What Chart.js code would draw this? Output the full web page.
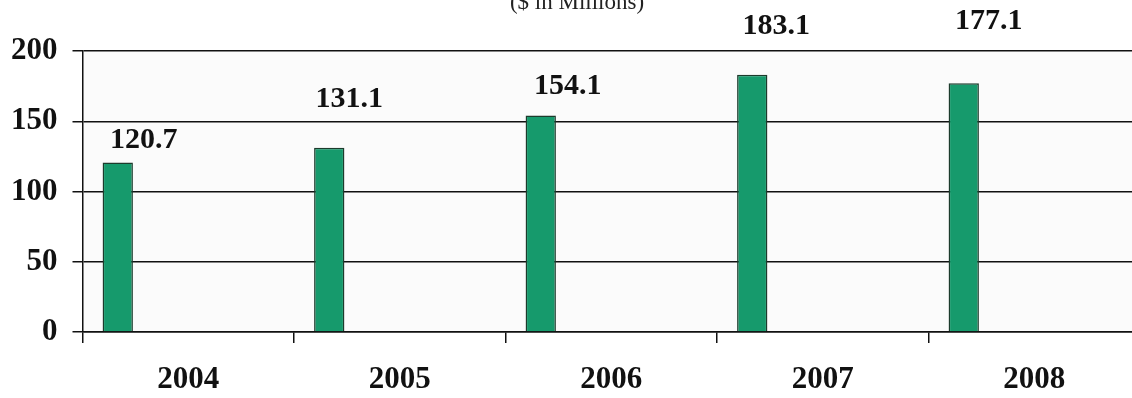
<!DOCTYPE html>
<html>
<head>
<meta charset="utf-8">
<script src="https://cdn.jsdelivr.net/npm/chart.js@4.4.1/dist/chart.umd.min.js"></script>
<style>
  html, body { margin: 0; padding: 0; background: #ffffff; overflow: hidden; }
  #wrap { width: 1140px; height: 398px; position: relative; }
</style>
</head>
<body>
<div id="wrap"><canvas id="c" width="1140" height="398"></canvas></div>
<script>
// ---- data ----
const categories = ['2004', '2005', '2006', '2007', '2008'];
const revenue = [120.7, 131.1, 154.1, 183.1, 177.1];
const emptySeriesA = [null, null, null, null, null];
const emptySeriesB = [null, null, null, null, null];
const yTicks = [0, 50, 100, 150, 200];
const subtitle = '($ in Millions)';

// label placement styling (pixels, relative to bar centre / bar top)
const labelDx = [26, 20, 27, 24, 25];
const labelDy = [-22, -49, -29, -48, -62];

const serif = "'Liberation Serif', 'Times New Roman', serif";

const valueLabels = {
  id: 'valueLabels',
  afterDatasetsDraw(chart) {
    const ctx = chart.ctx;
    const meta = chart.getDatasetMeta(0);
    ctx.save();
    ctx.font = 'bold 30px ' + serif;
    ctx.fillStyle = '#111';
    ctx.textAlign = 'center';
    ctx.textBaseline = 'middle';
    meta.data.forEach((bar, i) => {
      ctx.fillText(revenue[i].toFixed(1), bar.x + labelDx[i], bar.y + labelDy[i]);
    });
    ctx.restore();
  }
};

const topTitle = {
  id: 'topTitle',
  afterDraw(chart) {
    const ctx = chart.ctx;
    ctx.save();
    ctx.font = '23px ' + serif;
    ctx.fillStyle = '#222';
    ctx.textAlign = 'center';
    ctx.textBaseline = 'alphabetic';
    ctx.fillText(subtitle, 577, 9);
    ctx.restore();
  }
};

const plotBg = {
  id: 'plotBg',
  beforeDraw(chart) {
    const a = chart.chartArea;
    const ctx = chart.ctx;
    ctx.save();
    ctx.fillStyle = '#fbfbfb';
    ctx.fillRect(a.left, a.top, a.right - a.left, a.bottom - a.top);
    ctx.restore();
  }
};

new Chart(document.getElementById('c'), {
  type: 'bar',
  data: {
    labels: categories,
    datasets: [
      {
        label: 'Revenue',
        data: revenue,
        backgroundColor: '#169a6c',
        borderColor: '#1c3b2c',
        borderWidth: 1.5,
        borderSkipped: 'bottom',
        barPercentage: 0.43,
        categoryPercentage: 1
      },
      { label: 'A', data: emptySeriesA, barPercentage: 0.43, categoryPercentage: 1 },
      { label: 'B', data: emptySeriesB, barPercentage: 0.43, categoryPercentage: 1 }
    ]
  },
  options: {
    responsive: false,
    animation: false,
    layout: { padding: { left: 12, top: 51, right: 0, bottom: 0 } },
    plugins: {
      legend: { display: false },
      tooltip: { enabled: false },
      title: { display: false }
    },
    scales: {
      x: {
        offset: true,
        afterFit(axis) { axis.height = 66; },
        grid: {
          offset: true,
          drawOnChartArea: false,
          drawTicks: true,
          tickLength: 11,
          color: '#111',
          lineWidth: 1.5
        },
        border: { display: true, color: '#111', width: 1.5 },
        ticks: {
          color: '#111',
          padding: 18,
          maxRotation: 0,
          font: { family: serif, size: 31, weight: 'bold' }
        }
      },
      y: {
        min: 0,
        max: 200,
        afterFit(axis) { axis.width = 70.5; },
        afterBuildTicks(axis) { axis.ticks = yTicks.map(v => ({ value: v })); },
        grid: {
          color: '#111',
          lineWidth: 1.5,
          drawTicks: true,
          tickLength: 10
        },
        border: { display: true, color: '#111', width: 1.5 },
        ticks: {
          color: '#111',
          padding: 15,
          font: { family: serif, size: 31, weight: 'bold' }
        }
      }
    }
  },
  plugins: [plotBg, valueLabels, topTitle]
});
</script>
</body>
</html>
